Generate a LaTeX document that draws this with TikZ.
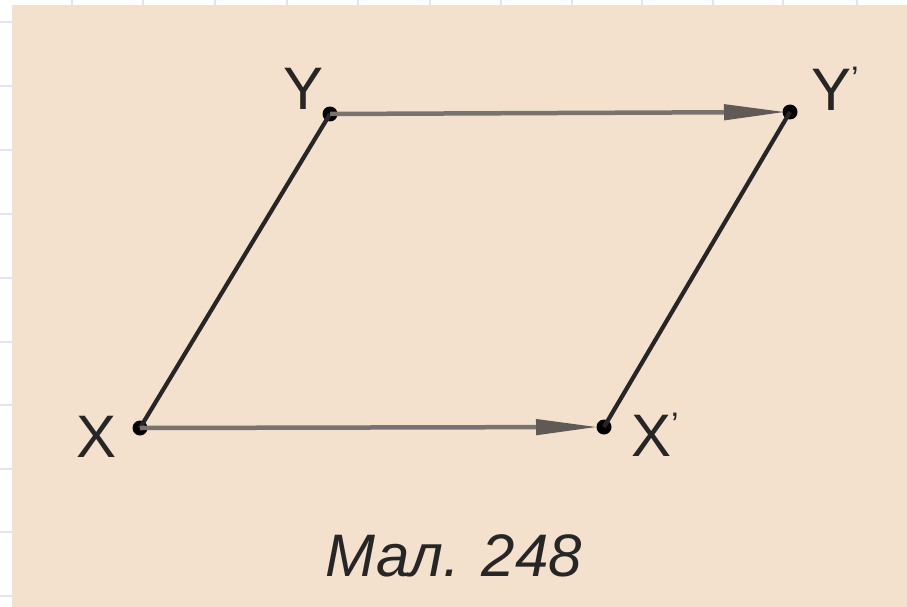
\documentclass[tikz,border=0pt]{standalone}
\usepackage{fontspec}
\setmainfont{Liberation Sans}
\usetikzlibrary{arrows.meta}
\definecolor{paper}{RGB}{243,225,206}
\definecolor{gridc}{RGB}{232,226,240}
\definecolor{vecgray}{RGB}{120,115,110}
\definecolor{headgray}{RGB}{95,90,86}
\tikzset{
  pt/.style={circle,fill=black,inner sep=0pt,minimum size=15pt},
  lbl/.style={font=\fontsize{60}{60}\selectfont,inner sep=0pt,text=black!85},
  side/.style={line width=4.2pt,black!85},
  vec/.style={line width=4.5pt,vecgray,-{Triangle[length=62pt,width=15pt,color=headgray]}}
}
\newcommand{\prm}{{\fontsize{34}{34}\selectfont\raisebox{20pt}{'}}}
\begin{document}
\begin{tikzpicture}[x=1pt,y=-1pt]
\useasboundingbox (0,0) rectangle (907,607);
\fill[white] (0,0) rectangle (907,607);
\foreach \gx in {72,143,215,287,358,430,501,572,642,713,783,857}
  \draw[gridc,line width=2pt] (\gx,0) -- (\gx,6);
\foreach \gy in {22,86,150,214,278,342,405,469,532,596}
  \draw[gridc,line width=2pt] (0,\gy) -- (12,\gy);
\fill[paper] (12,5) rectangle (907,607);
% points
\node[pt] (Y) at (330,114) {};
\node[pt] (Yp) at (790,112) {};
\node[pt] (X) at (140,428) {};
\node[pt] (Xp) at (604,427) {};
% sides
\draw[side] (X.center) -- (Y.center);
\draw[side] (Xp.center) -- (Yp.center);
% vectors
\draw[vec] (Y.center) -- ([xshift=-4pt]Yp.center);
\draw[vec] (X.center) -- ([xshift=-6pt]Xp.center);
% labels
\node[lbl] (lY) at (304,89) {Y};
\node[lbl,anchor=west] (lYp) at (811,89) {Y\prm};
\node[lbl] (lX) at (97,437) {X};
\node[lbl,anchor=west] (lXp) at (631,435) {X\prm};
\node[font=\fontsize{60}{60}\selectfont\itshape,inner sep=0pt,text=black!85] (cap) at (454,556) {Мал. 248};
\end{tikzpicture}
\end{document}
